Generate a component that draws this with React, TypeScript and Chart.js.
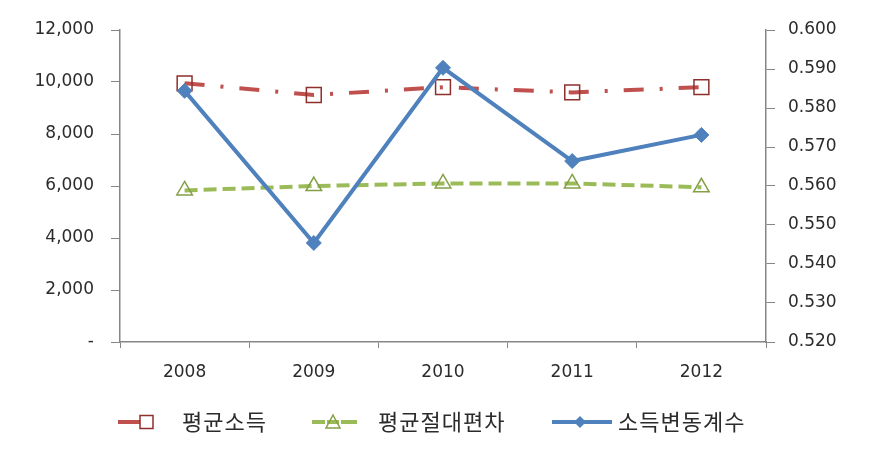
import React, { useEffect, useRef } from "react";
import { Chart, registerables } from "chart.js";

Chart.register(...registerables);

const years = ["2008", "2009", "2010", "2011", "2012"];
const avgIncome = [9950, 9500, 9800, 9600, 9800];
const avgAbsDev = [5830, 6000, 6100, 6100, 5950];
const cvIncome = [0.5844, 0.5454, 0.5903, 0.5664, 0.5731];
const seriesNames = ["평균소득", "평균절대편차", "소득변동계수"];

const RED = "#C0504D";
const RED_DARK = "#8E2F2C";
const GREEN = "#9BBB59";
const GREEN_DARK = "#84A046";
const BLUE = "#4F81BD";
const AXIS = "#868686";
const TEXT = "#2b2b2b";
const TICK_FONT = { family: "'DejaVu Sans', sans-serif", size: 17 };

const legendPlugin = {
  id: "customLegend",
  afterDraw(chart: any) {
    const ctx = chart.ctx as CanvasRenderingContext2D;
    const y = 422;
    ctx.save();
    ctx.font = "22px 'Noto Sans CJK KR', sans-serif";
    (ctx as any).letterSpacing = "1px";
    ctx.textBaseline = "middle";
    ctx.fillStyle = TEXT;

    // item 1: red
    ctx.lineWidth = 4;
    ctx.strokeStyle = RED;
    ctx.beginPath();
    ctx.moveTo(118, y);
    ctx.lineTo(140, y);
    ctx.stroke();
    ctx.lineWidth = 1.5;
    ctx.strokeStyle = RED_DARK;
    ctx.fillStyle = "#ffffff";
    ctx.fillRect(140, y - 6.5, 13, 13);
    ctx.strokeRect(140, y - 6.5, 13, 13);
    ctx.fillStyle = TEXT;
    ctx.fillText(seriesNames[0], 182, y);

    // item 2: green
    ctx.lineWidth = 4;
    ctx.strokeStyle = GREEN;
    ctx.beginPath();
    ctx.moveTo(312, y);
    ctx.lineTo(325, y);
    ctx.moveTo(341, y);
    ctx.lineTo(357, y);
    ctx.moveTo(327, y);
    ctx.lineTo(339, y);
    ctx.stroke();
    ctx.lineWidth = 1.5;
    ctx.strokeStyle = GREEN_DARK;
    ctx.beginPath();
    ctx.moveTo(333, y - 7);
    ctx.lineTo(340, y + 6);
    ctx.lineTo(326, y + 6);
    ctx.closePath();
    ctx.stroke();
    ctx.fillStyle = TEXT;
    ctx.fillText(seriesNames[1], 378, y);

    // item 3: blue
    ctx.lineWidth = 4;
    ctx.strokeStyle = BLUE;
    ctx.beginPath();
    ctx.moveTo(552, y);
    ctx.lineTo(612, y);
    ctx.stroke();
    ctx.fillStyle = BLUE;
    ctx.beginPath();
    ctx.moveTo(580, y - 6);
    ctx.lineTo(586, y);
    ctx.lineTo(580, y + 6);
    ctx.lineTo(574, y);
    ctx.closePath();
    ctx.fill();
    ctx.fillStyle = TEXT;
    ctx.fillText(seriesNames[2], 618, y);
    ctx.restore();
  },
};

export default function App() {
  const ref = useRef<HTMLCanvasElement | null>(null);

  useEffect(() => {
    if (!ref.current) return;
    const chart = new Chart(ref.current, {
      type: "line",
      data: {
        labels: years,
        datasets: [
          {
            label: seriesNames[0],
            data: avgIncome,
            yAxisID: "y",
            borderColor: RED,
            borderWidth: 4,
            borderDash: [20, 16, 3, 16],
            pointStyle: "rect",
            pointRadius: 10.5,
            pointBorderColor: RED_DARK,
            pointBackgroundColor: "rgba(255,255,255,0)",
            pointBorderWidth: 1.5,
            tension: 0,
            order: 3,
          },
          {
            label: seriesNames[1],
            data: avgAbsDev,
            yAxisID: "y",
            borderColor: GREEN,
            borderWidth: 4,
            borderDash: [13, 6],
            pointStyle: "triangle",
            pointRadius: 9,
            pointBorderColor: GREEN_DARK,
            pointBackgroundColor: "rgba(255,255,255,0)",
            pointBorderWidth: 1.5,
            tension: 0,
            order: 2,
          },
          {
            label: seriesNames[2],
            data: cvIncome,
            yAxisID: "y1",
            borderColor: BLUE,
            borderWidth: 4,
            pointStyle: "rectRot",
            pointRadius: 7.5,
            pointBorderColor: BLUE,
            pointBackgroundColor: BLUE,
            pointBorderWidth: 1,
            tension: 0,
            order: 1,
          },
        ],
      },
      options: {
        responsive: false,
        animation: false,
        layout: { padding: { top: 30, left: 0, right: 0, bottom: 0 } },
        plugins: {
          legend: { display: false },
          tooltip: { enabled: false },
        },
        scales: {
          x: {
            offset: true,
            afterFit: (s: any) => {
              s.height = 107;
            },
            grid: {
              offset: true,
              drawOnChartArea: false,
              drawTicks: true,
              tickLength: 6,
              color: AXIS,
            },
            border: { display: true, color: AXIS, width: 1.5 },
            ticks: { color: TEXT, font: TICK_FONT, padding: 14 },
          },
          y: {
            position: "left",
            min: 0,
            max: 12000,
            afterFit: (s: any) => {
              s.width = 120;
            },
            grid: {
              drawOnChartArea: false,
              drawTicks: true,
              tickLength: 9,
              color: AXIS,
            },
            border: { display: true, color: AXIS, width: 1.5 },
            ticks: {
              stepSize: 2000,
              color: TEXT,
              font: TICK_FONT,
              padding: 17,
              callback: (v: any) =>
                Number(v) === 0 ? "-" : Number(v).toLocaleString("en-US"),
            },
          },
          y1: {
            position: "right",
            min: 0.52,
            max: 0.6,
            afterFit: (s: any) => {
              s.width = 109;
            },
            grid: {
              drawOnChartArea: false,
              drawTicks: true,
              tickLength: 9,
              color: AXIS,
            },
            border: { display: true, color: AXIS, width: 1.5 },
            ticks: {
              stepSize: 0.01,
              color: TEXT,
              font: TICK_FONT,
              padding: 13,
              callback: (v: any) => Number(v).toFixed(3),
            },
          },
        },
      },
      plugins: [legendPlugin],
    });
    return () => chart.destroy();
  }, []);

  return (
    <div
      style={{
        position: "absolute",
        left: 0,
        top: 0,
        width: 875,
        height: 449,
        background: "#ffffff",
      }}
    >
      <canvas ref={ref} width={875} height={449} />
    </div>
  );
}
